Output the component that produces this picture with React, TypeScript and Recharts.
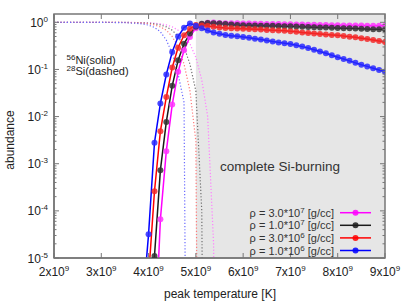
import React from "react";
import { LineChart, Line, XAxis, YAxis, ReferenceArea } from "recharts";

// peak temperature grid (units of 1e9 K)
const niTemps = [
  3.875, 4.0, 4.125, 4.25, 4.375, 4.5, 4.625, 4.75, 4.875, 5.0, 5.125, 5.25, 5.375, 5.5,
  5.625, 5.75, 5.875, 6.0, 6.125, 6.25, 6.375, 6.5, 6.625, 6.75, 6.875, 7.0, 7.125, 7.25,
  7.375, 7.5, 7.625, 7.75, 7.875, 8.0, 8.125, 8.25, 8.375, 8.5, 8.625, 8.75, 8.875, 9.0,
];

// 56Ni mass fractions
const niRho3e7 = [
  1e-10, 1e-9, 1e-7, 6.6e-5, 1.85e-3, 0.018, 0.089, 0.255, 0.49, 0.75, 0.92, 0.98, 0.99, 0.97,
  0.96, 0.955, 0.95, 0.945, 0.94, 0.935, 0.93, 0.925, 0.92, 0.915, 0.91, 0.905, 0.9, 0.895,
  0.89, 0.885, 0.88, 0.875, 0.87, 0.865, 0.86, 0.857, 0.855, 0.852, 0.85, 0.847, 0.844, 0.84,
];
const niRho1e7 = [
  1e-9, 1e-7, 1.1e-5, 7.3e-4, 7.7e-3, 0.045, 0.157, 0.35, 0.58, 0.8, 0.93, 0.97, 0.96, 0.94,
  0.92, 0.9, 0.88, 0.87, 0.86, 0.855, 0.85, 0.845, 0.84, 0.83, 0.825, 0.82, 0.81, 0.8,
  0.795, 0.79, 0.78, 0.775, 0.77, 0.76, 0.75, 0.745, 0.74, 0.73, 0.725, 0.715, 0.71, 0.7,
];
const niRho3e6 = [
  3e-8, 4e-6, 2.6e-4, 4.9e-3, 0.026, 0.11, 0.29, 0.53, 0.73, 0.88, 0.86, 0.83, 0.8, 0.78,
  0.76, 0.75, 0.74, 0.73, 0.72, 0.71, 0.7, 0.69, 0.68, 0.67, 0.66, 0.645, 0.63, 0.61,
  0.595, 0.58, 0.565, 0.55, 0.54, 0.53, 0.51, 0.495, 0.48, 0.46, 0.44, 0.42, 0.4, 0.38,
];
const niRho1e6 = [
  1e-6, 3.2e-5, 2.8e-3, 0.019, 0.078, 0.235, 0.5, 0.77, 0.94, 0.85, 0.75, 0.67, 0.61, 0.57,
  0.54, 0.52, 0.505, 0.49, 0.47, 0.45, 0.43, 0.41, 0.39, 0.375, 0.36, 0.345, 0.325, 0.305,
  0.285, 0.262, 0.24, 0.22, 0.2, 0.182, 0.167, 0.152, 0.138, 0.126, 0.116, 0.106, 0.097, 0.089,
];

// 28Si mass fractions
const siTemps = [
  2.0, 2.5, 3.0, 3.25, 3.5, 3.75, 3.875, 4.0, 4.125, 4.25, 4.375, 4.5, 4.625, 4.75, 4.875,
  5.0, 5.125, 5.25, 5.375, 5.5, 5.625,
];
const siRho3e7 = [
  1.0, 1.0, 1.0, 1.0, 0.998, 0.99, 0.985, 0.975, 0.96, 0.93, 0.88, 0.8, 0.68, 0.52, 0.35,
  0.18, 0.06, 0.01, 2e-5, 1e-20, 1e-20,
];
const siRho1e7 = [
  1.0, 1.0, 1.0, 0.998, 0.995, 0.985, 0.975, 0.96, 0.93, 0.88, 0.8, 0.68, 0.5, 0.3, 0.13,
  0.035, 1e-4, 1e-20, 1e-20, 1e-20, 1e-20,
];
const siRho3e6 = [
  1.0, 1.0, 0.998, 0.995, 0.99, 0.97, 0.955, 0.93, 0.88, 0.8, 0.68, 0.5, 0.3, 0.13, 0.035,
  3e-3, 1e-20, 1e-20, 1e-20, 1e-20, 1e-20,
];
const siRho1e6 = [
  1.0, 1.0, 0.995, 0.99, 0.98, 0.95, 0.92, 0.87, 0.78, 0.63, 0.42, 0.22, 0.08, 0.02, 1e-20,
  1e-20, 1e-20, 1e-20, 1e-20, 1e-20, 1e-20,
];

const xTicks = [2, 3, 4, 5, 6, 7, 8, 9];
const yMajor = [1e-5, 1e-4, 1e-3, 1e-2, 1e-1, 1];
const yMinorMult = [2, 3, 4, 5, 6, 7, 8, 9];
const yTicks = [
  ...yMajor,
  ...yMajor.slice(0, -1).flatMap((d) => yMinorMult.map((m) => d * m)),
].sort((a, b) => a - b);

const legendRows = [
  { mant: "3.0", exp: "7", color: "#ff00ff" },
  { mant: "1.0", exp: "7", color: "#1a1a1a" },
  { mant: "3.0", exp: "6", color: "#ff0000" },
  { mant: "1.0", exp: "6", color: "#0000ff" },
];

const series = [
  { ni: niRho3e7, si: siRho3e7, color: "#ff00ff", dot: "#ff33ff", dotted: "#ff7fff" },
  { ni: niRho1e7, si: siRho1e7, color: "#1a1a1a", dot: "#333333", dotted: "#707070" },
  { ni: niRho3e6, si: siRho3e6, color: "#ff0000", dot: "#f22a2a", dotted: "#ff7a7a" },
  { ni: niRho1e6, si: siRho1e6, color: "#0000ff", dot: "#2a2aff", dotted: "#6a6aff" },
];

const W = 407;
const H = 305;
const PL = 54;
const PR = 385;
const PT = 14;
const PB = 258;
const AXIS = "#777";
const FONT = '"Liberation Sans", Arial, Helvetica, sans-serif';
const TXT = "#222";

function YTick(props: any) {
  const { x, y, payload } = props;
  const ax = x + 6;
  const v = payload.value;
  const e = Math.log10(v);
  const major = Math.abs(e - Math.round(e)) < 1e-6;
  const len = major ? 5 : 2.5;
  const w = PR - PL;
  return (
    <g>
      <line x1={ax} x2={ax + len} y1={y} y2={y} stroke={AXIS} strokeWidth={1} />
      <line x1={ax + w} x2={ax + w - len} y1={y} y2={y} stroke={AXIS} strokeWidth={1} />
      {major && (
        <text x={x} y={y + 4.5} textAnchor="end" fontFamily={FONT} fontSize={12} fill={TXT}>
          10
          <tspan dy={-5} fontSize={8}>
            {Math.round(e)}
          </tspan>
        </text>
      )}
    </g>
  );
}

function XTick(props: any) {
  const { x, y, payload } = props;
  const ay = y - 6;
  const h = PB - PT;
  return (
    <g>
      <line x1={x} x2={x} y1={ay} y2={ay - 5} stroke={AXIS} strokeWidth={1} />
      <line x1={x} x2={x} y1={ay - h} y2={ay - h + 5} stroke={AXIS} strokeWidth={1} />
      <text x={x} y={ay + 18} textAnchor="middle" fontFamily={FONT} fontSize={12} fill={TXT}>
        {payload.value}x10
        <tspan dy={-5} fontSize={8}>
          9
        </tspan>
      </text>
    </g>
  );
}

export default function App() {
  const niData = series.map((s) => niTemps.map((t, i) => ({ t, v: s.ni[i] })));
  const siData = series.map((s) => siTemps.map((t, i) => ({ t, v: s.si[i] })));

  return (
    <div style={{ position: "absolute", left: 0, top: 0, width: W, height: H, background: "#fff" }}>
      <LineChart width={W} height={H} margin={{ top: PT, right: W - PR, left: 0, bottom: 0 }}>
        <XAxis
          type="number"
          dataKey="t"
          domain={[2, 9]}
          ticks={xTicks}
          interval={0}
          allowDataOverflow
          height={H - PB}
          tickSize={0}
          tickMargin={6}
          tick={<XTick />}
          axisLine={{ stroke: AXIS, strokeWidth: 1.5 }}
          label={{
            content: () => (
              <text x={220} y={298} textAnchor="middle" fontFamily={FONT} fontSize={12} fill={TXT}>
                peak temperature [K]
              </text>
            ),
          }}
        />
        <YAxis
          type="number"
          scale="log"
          domain={[1e-5, 1.5]}
          ticks={yTicks}
          interval={0}
          allowDataOverflow
          width={PL}
          tickSize={0}
          tickMargin={6}
          tick={<YTick />}
          axisLine={{ stroke: AXIS, strokeWidth: 1.5 }}
          label={{
            content: () => (
              <text
                x={14}
                y={140}
                transform="rotate(-90 14 140)"
                textAnchor="middle"
                fontFamily={FONT}
                fontSize={12}
                fill={TXT}
              >
                abundance
              </text>
            ),
          }}
        />
        <ReferenceArea x1={5} x2={9} y1={1e-5} y2={1.5} fill="#e6e6e6" fillOpacity={1} stroke="none" />
        {series.map((s, i) => (
          <Line
            key={`si-${i}`}
            data={siData[i]}
            dataKey="v"
            type="linear"
            stroke={s.dotted}
            strokeWidth={1.2}
            strokeDasharray="1.2 2"
            dot={false}
            isAnimationActive={false}
          />
        ))}
        {series.map((s, i) => (
          <Line
            key={`ni-${i}`}
            data={niData[i]}
            dataKey="v"
            type="linear"
            stroke={s.color}
            strokeWidth={1.5}
            dot={{ r: 3, fill: s.dot, stroke: "none", fillOpacity: 0.85 }}
            isAnimationActive={false}
          />
        ))}
        <ReferenceArea x1={2} x2={9} y1={1e-5} y2={1.5} fill="none" stroke={AXIS} strokeWidth={1.5} />
      </LineChart>
      <svg
        width={W}
        height={H}
        style={{ position: "absolute", left: 0, top: 0, pointerEvents: "none" }}
        fontFamily={FONT}
      >
        <text x={66.5} y={64} fontSize={11} fill={TXT}>
          <tspan dy={-4} fontSize={8}>56</tspan>
          <tspan dy={4}>Ni(solid)</tspan>
        </text>
        <text x={66.5} y={75} fontSize={11} fill={TXT}>
          <tspan dy={-4} fontSize={8}>28</tspan>
          <tspan dy={4}>Si(dashed)</tspan>
        </text>
        <text x={220} y={171} fontSize={13.5} fill="#333">
          complete Si-burning
        </text>
        {legendRows.map((r, i) => {
          const cy = 212.7 + i * 12.6;
          return (
            <g key={i}>
              <text x={334} y={cy + 4} textAnchor="end" fontSize={11} fill="#333">
                ρ = {r.mant}*10
                <tspan dy={-4} fontSize={8}>{r.exp}</tspan>
                <tspan dy={4}> [g/cc]</tspan>
              </text>
              <line x1={340} x2={371} y1={cy} y2={cy} stroke={r.color} strokeWidth={1.5} />
              <circle cx={355.5} cy={cy} r={3} fill={r.color} fillOpacity={0.85} />
            </g>
          );
        })}
      </svg>
    </div>
  );
}
